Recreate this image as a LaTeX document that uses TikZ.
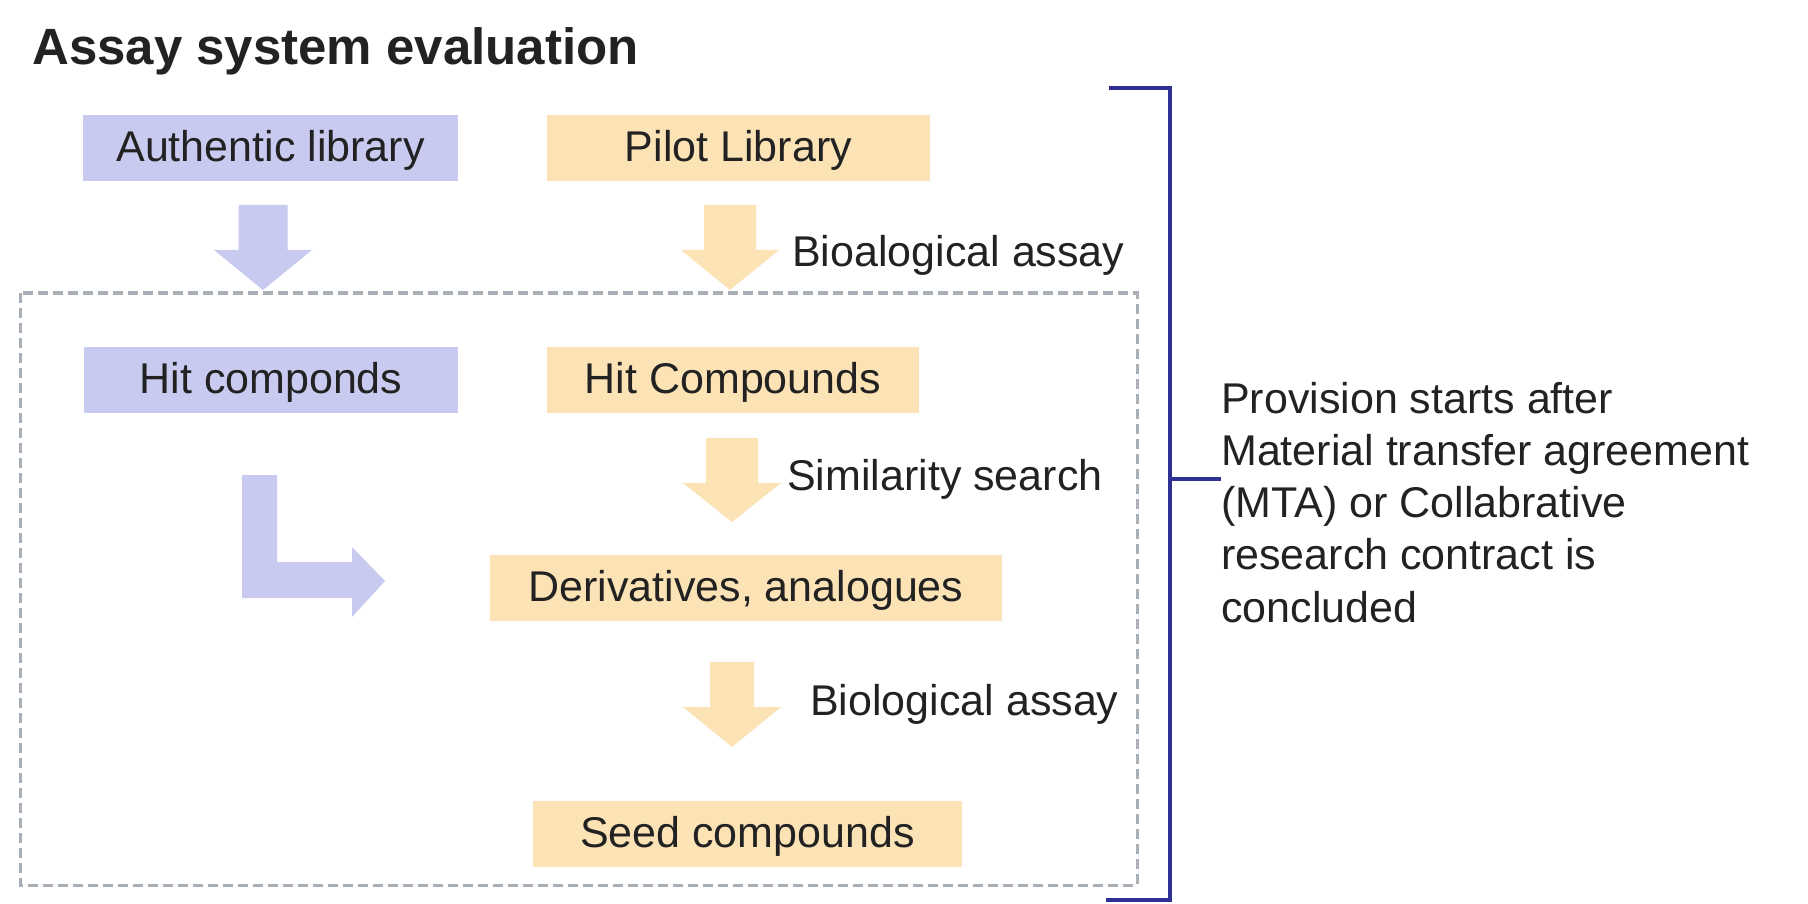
\documentclass[tikz,border=0pt]{standalone}
\usepackage{fontspec}
\setmainfont{Liberation Sans}
\definecolor{lav}{HTML}{C9CAEF}
\definecolor{ora}{HTML}{FBE3B6}
\definecolor{txt}{HTML}{222222}
\definecolor{dashc}{HTML}{A8AFB7}
\definecolor{brk}{HTML}{2E3192}
\newcommand\blockdown[6]{% fill, cx, shaft top, head base, tip, shaft half width
  \fill[#1] (#2-#6,#3) -- (#2+#6,#3) -- (#2+#6,#4) -- (#2+49,#4) -- (#2,#5) -- (#2-49,#4) -- (#2-#6,#4) -- cycle;}
\tikzset{
  base/.style={font=\fontsize{43}{52}\selectfont, text=txt},
  boxnode/.style={base, inner sep=0pt, text height=31pt, text depth=4pt, minimum height=66pt},
  lavbox/.style={boxnode, fill=lav},
  orabox/.style={boxnode, fill=ora},
  lbl/.style={base, anchor=base west, inner sep=0pt},
  dashbox/.style={draw=dashc, line width=3pt, dash pattern=on 10pt off 5pt},
  bracket/.style={draw=brk, line width=4.5pt},
}
\begin{document}
\begin{tikzpicture}[x=1pt,y=-1pt]
\useasboundingbox (0,0) rectangle (1808,904);
\fill[white] (0,0) rectangle (1808,904);
% title
\node[lbl, font=\fontsize{51}{60}\selectfont\bfseries] (title) at (32,65) {Assay system evaluation};
% dashed frame
\draw[dashbox] (20,293) rectangle (1137,885);
% boxes
\node[lavbox, minimum width=375pt] (auth) at (270.5,148) {Authentic library};
\node[orabox, minimum width=383pt] (pilot) at (738.5,148) {Pilot Library};
\node[lavbox, minimum width=374pt] (hitl) at (271,380) {Hit componds};
\node[orabox, minimum width=372pt] (hito) at (733,380) {Hit Compounds};
\node[orabox, minimum width=512pt] (deriv) at (746,588) {Derivatives, analogues};
\node[orabox, minimum width=429pt] (seed) at (747.5,834) {Seed compounds};
% block arrows
\blockdown{lav}{263}{205}{250}{290}{24.5}
\blockdown{ora}{730}{205}{250}{290}{26}
\blockdown{ora}{732}{438}{483}{522}{26}
\blockdown{ora}{732}{662}{707}{747}{22}
\fill[lav] (242,475) -- (277,475) -- (277,562) -- (352,562) -- (352,547) -- (385,581) -- (352,617) -- (352,598) -- (242,598) -- cycle;
% arrow labels
\node[lbl] (l1) at (792,267) {Bioalogical assay};
\node[lbl] (l2) at (787,490) {Similarity search};
\node[lbl] (l3) at (810,715) {Biological assay};
% bracket
\coordinate (bt) at (1170,88);
\coordinate (bb) at (1170,900);
\coordinate (bm) at (1170,479);
\draw[bracket] (1109,88) -- (bt) -- (bb) -- (1106,900);
\node[lbl, align=left, font=\fontsize{43}{52.25}\selectfont] (note) at (1221,622) {Provision starts after\\Material transfer agreement\\(MTA) or Collabrative\\research contract is\\concluded};
\draw[bracket] (bm) -- (1221,479);
\end{tikzpicture}
\end{document}
